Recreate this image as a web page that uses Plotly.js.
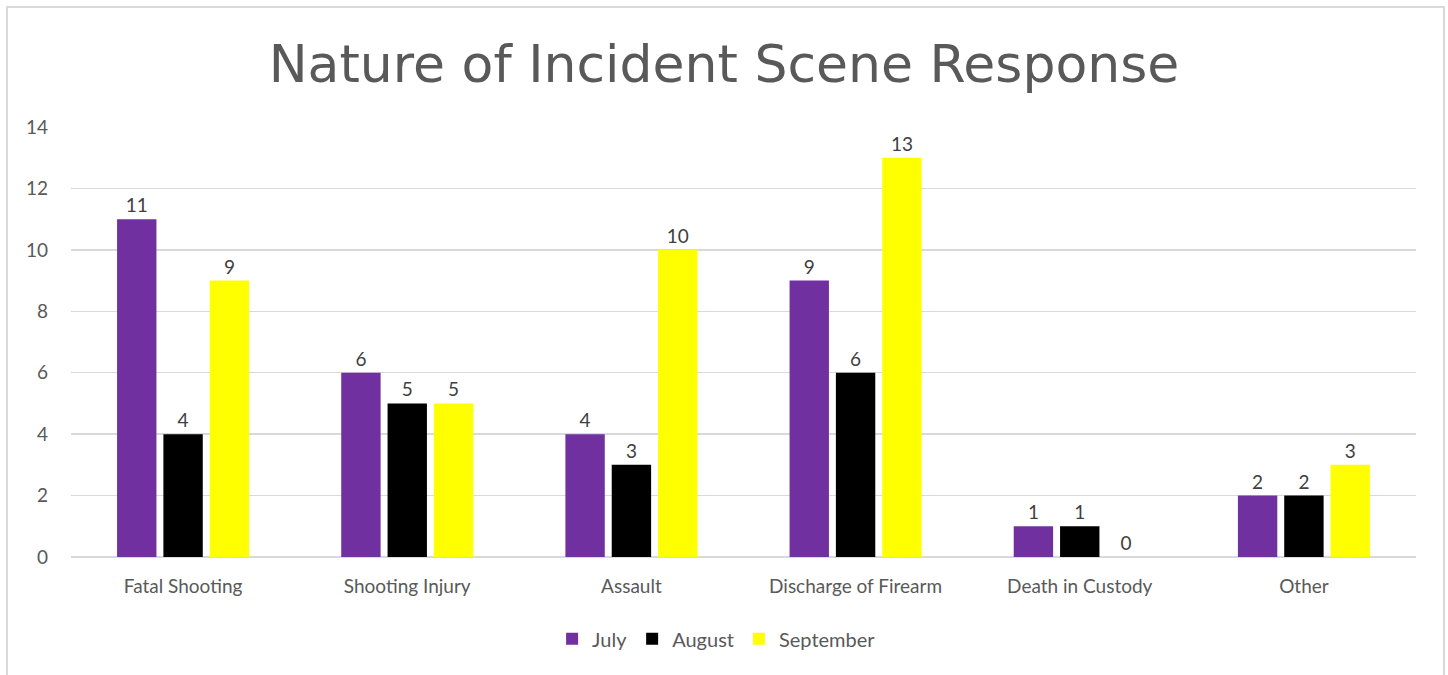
<!DOCTYPE html>
<html>
<head>
<meta charset="utf-8">
<script src="https://cdn.plot.ly/plotly-3.0.1.min.js"></script>
<style>
	html, body { margin: 0; padding: 0; background: #fff; }
	#chart { width: 1448px; height: 675px; }
</style>
</head>
<body>
<div id="chart"></div>
<script>
const categories = ["Fatal Shooting", "Shooting Injury", "Assault", "Discharge of Firearm", "Death in Custody", "Other"];
const july = [11, 6, 4, 9, 1, 2];
const august = [4, 5, 3, 6, 1, 2];
const september = [9, 5, 10, 13, 0, 3];
const yTicks = [0, 2, 4, 6, 8, 10, 12, 14];

const font = "Lato, 'Open Sans', sans-serif";

const makeTrace = (name, values, color) => ({
	type: "bar",
	name,
	x: categories,
	y: values,
	text: values.map(String),
	textposition: "outside",
	cliponaxis: false,
	textfont: {family: font, size: 19, color: "#404040"},
	marker: {color},
	hoverinfo: "x+y+name"
});

const data = [
	makeTrace("July", july, "#7030a0"),
	makeTrace("August", august, "#000000"),
	makeTrace("September", september, "#ffff00")
];

const layout = {
	width: 1448,
	height: 675,
	margin: {l: 71, r: 32, t: 127, b: 118},
	paper_bgcolor: "#fff",
	plot_bgcolor: "#fff",
	font: {family: font, color: "#595959"},
	title: {
		text: "Nature of Incident Scene Response",
		font: {family: "'DejaVu Sans', sans-serif", size: 52, color: "#595959"},
		x: 0.5,
		xanchor: "center",
		y: 0.905,
		yanchor: "middle"
	},
	barmode: "group",
	bargap: 0.38,
	bargroupgap: 0.15,
	xaxis: {
		tickfont: {family: font, size: 19, color: "#595959"},
		showline: false,
		ticks: "",
		ticklabelstandoff: 16
	},
	yaxis: {
		range: [0, 14],
		tickvals: yTicks,
		tickfont: {family: font, size: 19, color: "#595959"},
		gridcolor: "#d9d9d9",
		gridwidth: 1.5,
		zeroline: true,
		zerolinecolor: "#d9d9d9",
		zerolinewidth: 1.5,
		ticks: "",
		ticklabelstandoff: 22
	},
	legend: {
		orientation: "h",
		x: 0.48,
		xanchor: "center",
		y: -0.19,
		yanchor: "middle",
		font: {family: font, size: 20, color: "#595959"},
		itemwidth: 30
	},
	shapes: [{
		type: "rect",
		xref: "paper",
		yref: "paper",
		x0: -0.0476,
		x1: 1.0208,
		y0: -0.5,
		y1: 1.279,
		line: {color: "#d9d9d9", width: 2},
		fillcolor: "rgba(0,0,0,0)",
		layer: "below"
	}]
};

Plotly.newPlot("chart", data, layout, {displayModeBar: false, staticPlot: true});
</script>
</body>
</html>
